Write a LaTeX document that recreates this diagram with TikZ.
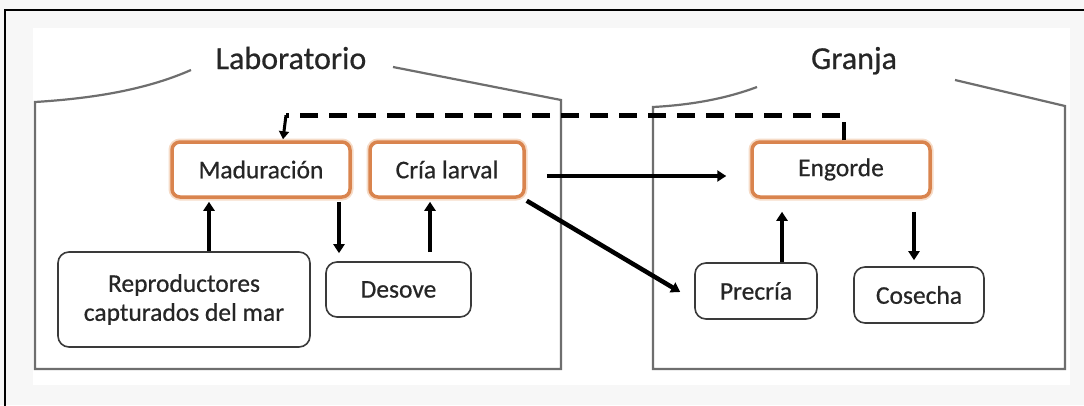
\documentclass[tikz,border=0pt]{standalone}
\usepackage{fontspec}
\setmainfont{Carlito}[FakeBold=0.6]
\usetikzlibrary{arrows.meta,calc}
\definecolor{bgc}{HTML}{F7F7F7}
\definecolor{orgc}{HTML}{D9844E}
\definecolor{glowc}{HTML}{F6DCC8}
\definecolor{enclc}{HTML}{6E6E6E}
\definecolor{txtc}{HTML}{262626}
\definecolor{boxc}{HTML}{3A3A3A}
\tikzset{
  procbox/.style={draw=orgc, line width=3.5pt, rounded corners=8pt, fill=white, text=txtc,
    font=\fontsize{25.5}{29}\selectfont\bfseries\mdseries, inner sep=0pt, align=center,
    preaction={draw=glowc, line width=7pt}},
  plainbox/.style={draw=boxc, line width=1.6pt, rounded corners=11pt, fill=white, text=txtc,
    font=\fontsize{25.5}{29}\selectfont, inner sep=0pt, align=center},
  encl/.style={draw=enclc, line width=2.2pt},
  titletext/.style={text=txtc, font=\fontsize{32}{36}\selectfont, anchor=base, inner sep=0pt},
  arr/.style={line width=4.5pt, -{Triangle[length=9pt,width=11pt]}},
  dsh/.style={line width=4.5pt, dash pattern=on 18pt off 11pt}
}
\begin{document}
\begin{tikzpicture}[x=1pt,y=-1pt]
\useasboundingbox (0,0) rectangle (1084,405);
\fill[bgc] (0,0) rectangle (1084,405);
\fill[white] (33,28) rectangle (1070,385);
\draw[line width=2pt] (5,406) -- (5,10) -- (1085,10);

% enclosures
\draw[encl] (191,70) .. controls (150,88) and (100,98) .. (35,102) -- (35,369) -- (561,369) -- (561,100) -- (393,67);
\draw[encl] (757,87) .. controls (725,99) and (690,105) .. (653,107) -- (653,369) -- (1065,369) -- (1065,106) -- (955,80);

\node[titletext] (lab) at (291,69) {Laboratorio};
\node[titletext] (gra) at (854,69) {Granja};

% nodes
\node[procbox, minimum width=178pt, minimum height=55pt] (mad) at (261,169.5) {Maduración};
\node[procbox, minimum width=154pt, minimum height=55pt] (cria) at (447,169.5) {Cría larval};
\node[procbox, minimum width=178pt, minimum height=55pt] (eng) at (841,169.5) {Engorde};
\node[plainbox, minimum width=252pt, minimum height=95pt] (rep) at (184,299.5) {Reproductores\\capturados del mar};
\node[plainbox, minimum width=145pt, minimum height=55pt] (des) at (398.5,289.5) {Desove};
\node[plainbox, minimum width=122pt, minimum height=56pt] (pre) at (756,291) {Precría};
\node[plainbox, minimum width=130pt, minimum height=56pt] (cos) at (919,295) {Cosecha};

% connectors
\draw[arr] ($(rep.north)+(25,0)$) -- ($(mad.south)+(-52,3)$);
\draw[arr] ($(mad.south)+(78,3)$) -- ($(des.north)+(-59.5,-8)$);
\draw[arr] ($(des.north)+(31.5,-9)$) -- ($(cria.south)+(-17,3)$);
\draw[arr] ($(cria.east)+(21,6.5)$) -- ($(eng.west)+(-24,6.5)$);
\draw[arr] ($(cria.south east)+(1,2)$) -- ($(pre.west)+(-14,1)$);
\draw[arr] ($(pre.north)+(26,0)$) -- ($(eng.south)+(-59,13)$);
\draw[arr] ($(eng.south)+(73,13)$) -- ($(cos.north)+(-5,-6)$);
\coordinate (turn) at ($(mad.north)+(25,-25)$);
\draw[dsh] ($(eng.north)+(3,0)$) |- (turn);
\draw[line width=3pt, -{Triangle[length=8pt,width=10pt]}] (turn) -- ($(mad.north)+(22,-1)$);
\end{tikzpicture}
\end{document}
